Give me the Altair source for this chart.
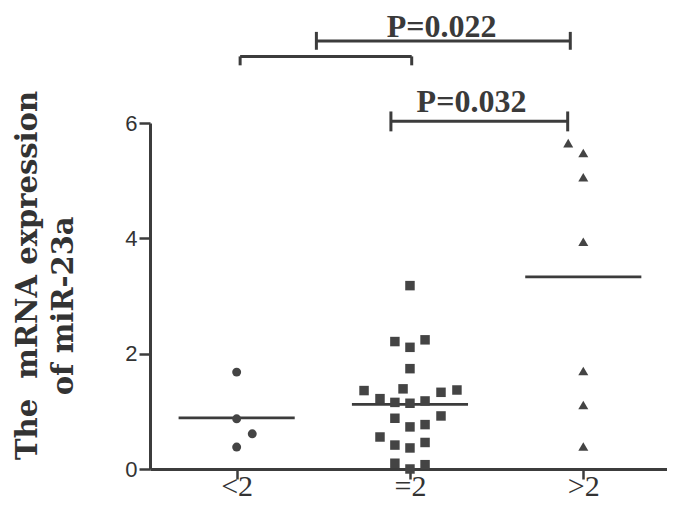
import altair as alt
import pandas as pd

# ---- data ----
categories = ["<2", "=2", ">2"]

lt2_values = [1.68, 0.87, 0.61, 0.38]
lt2_jitter = [0.0, 0.0, 0.09, 0.0]

eq2_values = [3.18, 2.21, 2.24, 2.11, 1.74, 1.36, 1.39, 1.33, 1.37, 1.22, 1.155, 1.14,
              1.18, 0.88, 0.92, 0.73, 0.77, 0.555, 0.415, 0.365, 0.46, 0.10, 0.0, 0.075]
eq2_jitter = [0.0, -0.087, 0.087, 0.0, 0.0, -0.265, -0.04, 0.179, 0.271, -0.173, -0.087, 0.0,
              0.087, -0.087, 0.179, 0.0, 0.087, -0.173, -0.087, 0.0, 0.087, -0.087, 0.0, 0.087]

gt2_values = [5.65, 5.48, 5.06, 3.94, 1.70, 1.11, 0.39]
gt2_jitter = [-0.087, 0.0, 0.0, 0.0, 0.0, 0.0, 0.0]

shapes = ["circle", "square", "triangle-up"]

bracket_x1 = [1.46, 1.02, 1.89]
bracket_x2 = [2.925, 2.01, 2.91]
bracket_y = [7.42, 7.155, 6.03]
cap_top = [7.58, 7.155, 6.20]
cap_bottom = [7.27, 7.0, 5.855]
p_labels = ["P=0.022", "P=0.032"]
p_label_x = [2.183, 2.355]
p_label_y = [7.50, 6.19]

title_lines = ["The\u00a0 mRNA expression", "of miR-23a" + "\u00a0" * 6 + "\u200b"]

mean_half_width = 0.335
ink = "#3c3c3c"

# ---- tables ----
rows = []
for gi, (vals, jit) in enumerate([(lt2_values, lt2_jitter), (eq2_values, eq2_jitter), (gt2_values, gt2_jitter)]):
    for v, j in zip(vals, jit):
        rows.append({"group": gi + 1, "cat": categories[gi], "x": gi + 1 + j, "value": v})
points = pd.DataFrame(rows)

brackets = pd.DataFrame({"x1": bracket_x1, "x2": bracket_x2, "y": bracket_y})
caps = pd.DataFrame({
    "x": bracket_x1 + bracket_x2,
    "top": cap_top + cap_top,
    "bottom": cap_bottom + cap_bottom,
})
labels = pd.DataFrame({"text": p_labels, "x": p_label_x, "y": p_label_y})

label_expr = " : ".join(
    f"datum.value == {i + 1} ? '{c}'" for i, c in enumerate(categories[:-1])
) + f" : '{categories[-1]}'"

xscale = alt.Scale(domain=[0.5, 3.483], nice=False)
yscale = alt.Scale(domain=[0, 6], nice=False)

x_axis = alt.Axis(values=[1, 2, 3], labelExpr=label_expr, title=None, grid=False,
                  labelFont="Liberation Serif", labelFontSize=30, labelColor="#333333",
                  labelBaseline="alphabetic", labelPadding=16,
                  tickSize=10, tickWidth=2.5, tickColor=ink,
                  domainWidth=3, domainColor=ink)
y_axis = alt.Axis(values=[0, 2, 4, 6], format="d", grid=False,
                  title=title_lines,
                  titleFont="DejaVu Serif", titleFontWeight="bold", titleFontSize=29,
                  titleColor="#333333", titleLineHeight=36, titleAngle=270,
                  titleBaseline="alphabetic", titleX=-114, titleY=152,
                  labelFont="Liberation Sans", labelFontSize=22, labelColor="#333333",
                  labelPadding=2, tickSize=11, tickWidth=2.5, tickColor=ink,
                  domainWidth=3, domainColor=ink)

base_pts = alt.Chart(points)

pts = base_pts.mark_point(filled=True, opacity=1, color="#444444").encode(
    x=alt.X("x:Q", scale=xscale, axis=x_axis),
    y=alt.Y("value:Q", scale=yscale, axis=y_axis),
    shape=alt.Shape("cat:N", scale=alt.Scale(domain=categories, range=shapes), legend=None),
    size=alt.Size("cat:N", scale=alt.Scale(domain=categories, range=[80, 100, 95]), legend=None),
)

means = base_pts.transform_aggregate(
    mean="mean(value)", groupby=["group"]
).transform_calculate(
    xa=f"datum.group - {mean_half_width}", xb=f"datum.group + {mean_half_width}"
).mark_rule(color=ink, strokeWidth=2.8).encode(
    x=alt.X("xa:Q", scale=xscale), x2="xb:Q", y=alt.Y("mean:Q", scale=yscale)
)

hbars = alt.Chart(brackets).mark_rule(color=ink, strokeWidth=3).encode(
    x=alt.X("x1:Q", scale=xscale), x2="x2:Q", y=alt.Y("y:Q", scale=yscale)
)
vcaps = alt.Chart(caps).mark_rule(color=ink, strokeWidth=3).encode(
    x=alt.X("x:Q", scale=xscale), y=alt.Y("top:Q", scale=yscale), y2="bottom:Q"
)
ptext = alt.Chart(labels).mark_text(
    font="Liberation Serif", fontWeight="bold", fontSize=32, color="#3a3a3a",
    align="center", baseline="alphabetic"
).encode(
    x=alt.X("x:Q", scale=xscale), y=alt.Y("y:Q", scale=yscale), text="text:N"
)

chart = alt.layer(means, pts, hbars, vcaps, ptext).properties(
    width=517, height=346,
    autosize=alt.AutoSizeParams(type="none"),
    padding={"left": 142, "top": 115, "right": 0, "bottom": 33},
    background="white",
).configure_view(stroke=None)

chart.save("out.html", embed_options={"renderer": "svg", "actions": False})
